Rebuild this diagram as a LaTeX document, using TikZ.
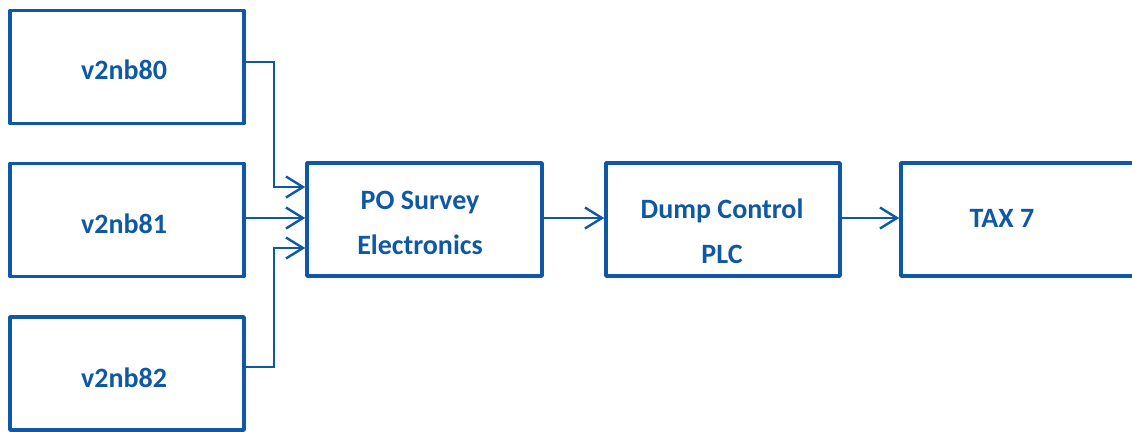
\documentclass[tikz,border=0pt]{standalone}
\usepackage{fontspec}
\setmainfont{Carlito}
\usetikzlibrary{arrows.meta,calc}
\definecolor{flowblue}{RGB}{14,88,166}
\begin{document}
\begin{tikzpicture}[x=1pt,y=-1pt,
  block/.style={draw=flowblue,line width=3.5pt,line join=round,inner sep=0pt,
    minimum width=234pt,minimum height=113pt},
  label/.style={text=flowblue,font=\bfseries\fontsize{28}{45}\selectfont,align=center},
  link/.style={draw=flowblue,line width=2.4pt,-{Straight Barb[length=17pt,width=21pt,line width=2.4pt]}}]
  \useasboundingbox (0,0) rectangle (1132,431);
  % source boxes
  \node[block] (b80) at (127,67) {};
  \node[block] (b81) at (127,220) {};
  \node[block] (b82) at (127,373.5) {};
  % processing chain
  \node[block,minimum width=235pt] (po) at (424.5,219.5) {};
  \node[block] (dc) at (723,219.5) {};
  \node[block,minimum width=239pt] (tx) at (1020.5,219.5) {};
  % texts
  \node[label] (n80) at ($(b80)+(-3,3)$) {v2nb80};
  \node[label] (n81) at ($(b81)+(-3,4)$) {v2nb81};
  \node[label] (n82) at ($(b82)+(-3,4.5)$) {v2nb82};
  \node[label] (tpo) at ($(po)+(-4.5,3.5)$) {PO Survey\\Electronics};
  \node[label] (tdc) at ($(dc)+(-1,11.5)$) {Dump Control\\PLC};
  \node[label] (ttx) at ($(tx)+(-18.5,-1.5)$) {TAX 7};
  % connectors (shifts are in page units: positive is upward)
  \draw[link] ([yshift=5pt]b80.east) -| ([xshift=-31pt,yshift=32.5pt]po.west) -- ([yshift=32.5pt]po.west);
  \draw[link] ([yshift=2pt]b81.east) -- ([yshift=1.5pt]po.west);
  \draw[link] ([yshift=6.5pt]b82.east) -| ([xshift=-31pt,yshift=-28.5pt]po.west) -- ([yshift=-28.5pt]po.west);
  \draw[link] ([yshift=1.5pt]po.east) -- ([yshift=1.5pt]dc.west);
  \draw[link] ([yshift=1.5pt]dc.east) -- ([yshift=1.5pt]tx.west);
\end{tikzpicture}
\end{document}
